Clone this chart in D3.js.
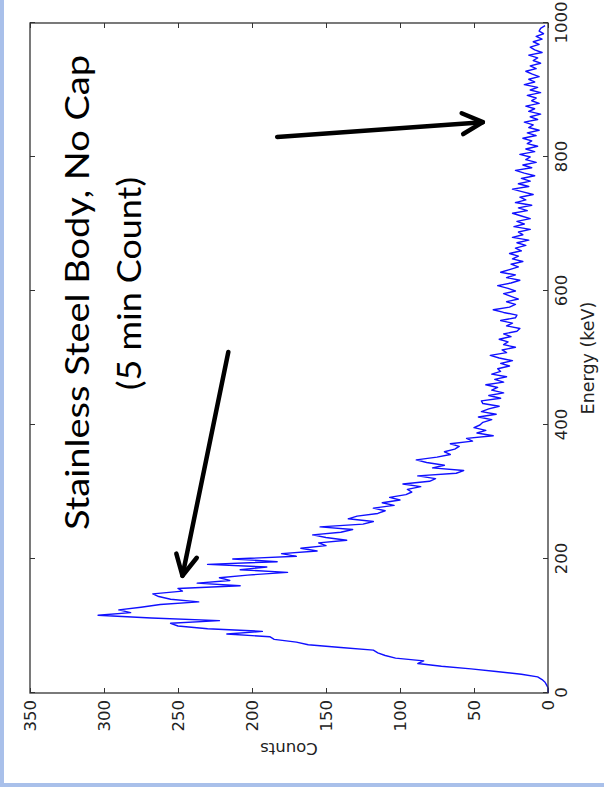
<!DOCTYPE html>
<html><head><meta charset="utf-8">
<script src="https://cdn.jsdelivr.net/npm/d3@7"></script>
<style>
html,body{margin:0;padding:0;background:#fff;}
svg{display:block;}
</style></head>
<body>
<svg id="c" width="604" height="787"></svg>
<script>
// ---- data ----
const energyTicks = [0, 200, 400, 600, 800, 1000];
const countTicks = [0, 50, 100, 150, 200, 250, 300, 350];
const titleLines = ["Stainless Steel Body, No Cap", "(5 min Count)"];
const xLabel = "Energy (keV)";
const yLabel = "Counts";
// channel energies (keV), 4 keV bins
const energies = d3.range(0, 1000, 4);
// counts per channel
const counts = [
  0,0,0,1,2,4,7,18,35,52,
  72,88,84,103,110,115,118,140,162,170,
  185,188,217,193,230,250,255,222,268,304,
  282,290,275,262,236,255,263,267,247,250,
  208,237,215,222,203,176,208,190,230,183,
  213,170,180,156,167,150,155,136,150,159,
  140,132,154,125,118,135,129,115,110,118,
  104,112,100,107,96,92,95,86,98,80,
  76,88,62,57,78,70,82,89,75,66,
  70,63,60,66,51,55,37,48,42,50,
  46,44,38,47,35,45,40,33,44,45,
  32,40,30,38,34,42,30,36,28,38,
  32,34,26,32,24,33,39,28,31,22,
  30,27,33,25,30,21,19,28,24,32,
  22,21,30,37,26,22,28,20,25,30,
  22,27,34,25,19,28,22,32,26,20,
  25,17,24,20,26,18,22,15,21,13,
  24,17,20,12,23,16,21,12,18,24,
  14,20,11,22,15,19,10,17,24,13,
  20,12,18,9,16,22,11,17,8,15,
  12,19,9,15,7,14,11,17,8,14,
  6,13,10,16,7,12,5,13,9,15,
  6,11,8,14,5,12,7,16,9,13,
  6,11,15,8,12,5,10,7,13,4,
  9,12,6,10,4,8,3,6,5,2
];
// annotation arrows: [energy, counts] start -> tip
const arrows = [
  {from: [830, 183], to: [852, 44]},
  {from: [509, 216], to: [175, 247]}
];

// ---- layout ----
const svg = d3.select("#c");
svg.append("rect").attr("x",0).attr("y",0).attr("width",604).attr("height",787).attr("fill","#fff");
svg.append("rect").attr("x",0).attr("y",0).attr("width",4).attr("height",787).attr("fill","#a9c0ea");
svg.append("rect").attr("x",0).attr("y",783).attr("width",604).attr("height",4).attr("fill","#a9c0ea");

const W = 670, H = 518;
const g = svg.append("g").attr("transform","translate(30,693) rotate(-90)");
const x = d3.scaleLinear().domain([0,1000]).range([0,W]);
const y = d3.scaleLinear().domain([0,350]).range([H,0]);

const frameColor = "#333";
const tickFont = "DejaVu Sans, sans-serif";

function styleAxis(sel, labels){
  sel.select(".domain").remove();
  sel.selectAll(".tick line").attr("stroke", frameColor).attr("stroke-width",1);
  sel.selectAll(".tick text").attr("fill","#222").attr("font-family",tickFont).attr("font-size",16.5);
  if(!labels) sel.selectAll(".tick text").remove();
}

g.append("g").attr("transform",`translate(0,${H})`)
  .call(d3.axisBottom(x).tickValues(energyTicks).tickSizeInner(-5).tickSizeOuter(0).tickPadding(7).tickFormat(d3.format("d")))
  .call(s=>styleAxis(s,true));
g.append("g")
  .call(d3.axisTop(x).tickValues(energyTicks).tickSizeInner(-5).tickSizeOuter(0))
  .call(s=>styleAxis(s,false));
g.append("g")
  .call(d3.axisLeft(y).tickValues(countTicks).tickSizeInner(-5).tickSizeOuter(0).tickPadding(7).tickFormat(d3.format("d")))
  .call(s=>styleAxis(s,true));
g.append("g").attr("transform",`translate(${W},0)`)
  .call(d3.axisRight(y).tickValues(countTicks).tickSizeInner(-5).tickSizeOuter(0))
  .call(s=>styleAxis(s,false));

// spectrum line
const line = d3.line().x((d,i)=>x(energies[i])).y(d=>y(d));
g.append("path").datum(counts)
  .attr("d", line).attr("fill","none").attr("stroke","#1010ff").attr("stroke-width",1.4).attr("stroke-linejoin","round");

// frame
g.append("rect").attr("x",0).attr("y",0).attr("width",W).attr("height",H)
  .attr("fill","none").attr("stroke",frameColor).attr("stroke-width",1.3);

// axis labels
g.append("text").attr("x",W/2).attr("y",H+46).attr("text-anchor","middle")
  .attr("font-family",tickFont).attr("font-size",17.5).attr("fill","#222").text(xLabel);
g.append("text").attr("transform",`translate(-50,${H/2}) rotate(-90)`).attr("text-anchor","middle")
  .attr("font-family",tickFont).attr("font-size",16.5).attr("fill","#222").text(yLabel);

// arrows
arrows.forEach(a=>{
  const x0=x(a.from[0]), y0=y(a.from[1]), x1=x(a.to[0]), y1=y(a.to[1]);
  const ang = Math.atan2(y0-y1, x0-x1);
  const L = 23, da = 27*Math.PI/180;
  const p1=[x1+L*Math.cos(ang+da), y1+L*Math.sin(ang+da)];
  const p2=[x1+L*Math.cos(ang-da), y1+L*Math.sin(ang-da)];
  g.append("path").attr("d",`M${x0},${y0}L${x1},${y1}`)
    .attr("stroke","#000").attr("stroke-width",4.5).attr("stroke-linecap","round").attr("fill","none");
  g.append("path").attr("d",`M${p1[0]},${p1[1]}L${x1},${y1}L${p2[0]},${p2[1]}`)
    .attr("stroke","#000").attr("stroke-width",4.5).attr("stroke-linecap","round").attr("stroke-linejoin","round").attr("fill","none");
});

// title
svg.append("text").attr("transform","translate(89,530) rotate(-90)")
  .attr("font-family","Lato, 'Open Sans', sans-serif").attr("font-size",32).attr("fill","#000")
  .attr("textLength",475).attr("lengthAdjust","spacingAndGlyphs").text(titleLines[0]);
svg.append("text").attr("transform","translate(141,390) rotate(-90)")
  .attr("font-family","Lato, 'Open Sans', sans-serif").attr("font-size",32).attr("fill","#000")
  .attr("textLength",213).attr("lengthAdjust","spacingAndGlyphs").text(titleLines[1]);
</script>
</body></html>
